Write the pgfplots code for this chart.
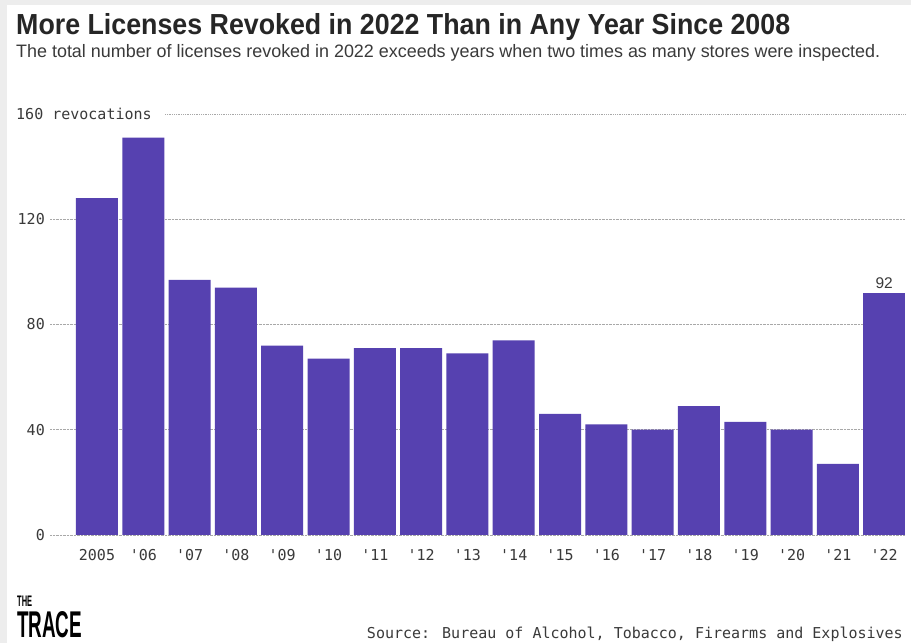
\documentclass[border=0pt]{standalone}
\usepackage{fontspec}
\setmainfont{Liberation Sans}
\newfontfamily\monof{DejaVu Sans Mono}
\usepackage{pgfplots}
\pgfplotsset{compat=1.18}
\definecolor{barc}{HTML}{5641B0}
\definecolor{txt}{HTML}{3A3A3A}
\definecolor{gridc}{HTML}{A8A8A8}
\begin{document}
\begin{tikzpicture}[x=1pt,y=1pt]
\fill[white] (0,0) rectangle (911,643);
\fill[black!7] (0,0) rectangle (7,643);
\fill[black!7] (0,638) rectangle (911,643);
\node[anchor=base west, inner sep=0, text=black!85] at (16,608) {\resizebox{774pt}{\height}{\fontsize{29}{30}\selectfont\bfseries More Licenses Revoked in 2022 Than in Any Year Since 2008}};
\node[anchor=base west, inner sep=0, text=txt] at (16,585) {\resizebox{864pt}{\height}{\fontsize{18}{20}\selectfont The total number of licenses revoked in 2022 exceeds years when two times as many stores were inspected.}};
\begin{axis}[
  at={(50pt,108pt)}, anchor=south west,
  scale only axis, width=855pt, height=421pt,
  xmin=-1.015, xmax=17.45, ymin=0, ymax=160,
  /pgf/number format/assume math mode=true,
  axis line style={draw=none}, major tick length=0pt,
  ytick={0,40,80,120}, ymajorgrids, grid style={densely dotted, gridc, line width=0.8pt},
  xtick={0,...,17},
  xticklabels={2005,'06,'07,'08,'09,'10,'11,'12,'13,'14,'15,'16,'17,'18,'19,'20,'21,'22},
  xticklabel style={anchor=base, inner sep=0pt, yshift=-26pt, font=\monof\fontsize{15}{15}\selectfont, text=txt},
  yticklabel style={anchor=base east, inner sep=0pt, xshift=-5pt, yshift=-5.5pt, font=\monof\fontsize{15}{15}\selectfont, text=txt},
  clip=false,
]
\addplot[ybar, bar width=42pt, bar shift=0pt, fill=barc, draw=none] coordinates {
(0,128) (1,151) (2,97) (3,94) (4,72) (5,67) (6,71) (7,71) (8,69) (9,74) (10,46) (11,42) (12,40) (13,49) (14,43) (15,40) (16,27)};
\addplot[ybar, bar width=42pt, bar shift=0pt, fill=barc, draw=none,
  nodes near coords, every node near coord/.style={anchor=south, inner sep=2pt, yshift=2pt, text=txt, font=\fontsize{15.5}{15.5}\selectfont}] coordinates {(17,92)};
\end{axis}
\draw[densely dotted, gridc, line width=0.8pt] (165,529) -- (905,529);
\node[anchor=base west, inner sep=0, text=txt, font=\monof\fontsize{15}{15}\selectfont] at (16,523.5) {160 revocations};
\node[anchor=base east, inner sep=0, text=txt, font=\monof\fontsize{15}{15}\selectfont] at (903,4) {Source: Bureau of Alcohol, Tobacco, Firearms and Explosives};
\node[anchor=south west, inner sep=0] at (17,36) {\resizebox{15pt}{10.5pt}{\bfseries THE}};
\node[anchor=south west, inner sep=0] at (17,5) {\resizebox{65pt}{26pt}{\bfseries TRACE}};
\end{tikzpicture}
\end{document}
